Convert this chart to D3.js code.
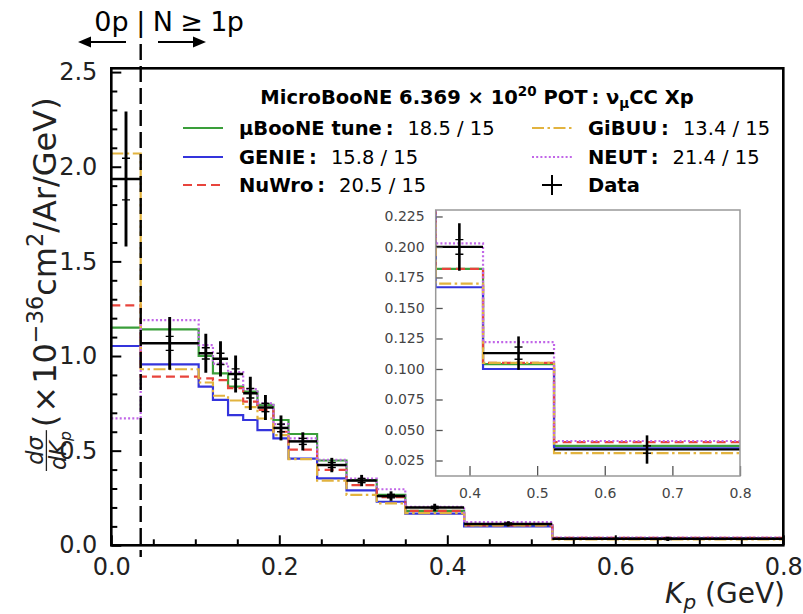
<!DOCTYPE html>
<html>
<head>
<meta charset="utf-8">
<script src="https://cdn.jsdelivr.net/npm/d3@7"></script>
<style>
  body { margin: 0; background: #fff; }
  svg { display: block; }
  text { font-family: "DejaVu Sans", sans-serif; }
</style>
</head>
<body>
<svg id="chart" width="803" height="614"></svg>
<script>
// Bin edges in proton kinetic energy (GeV): first bin is the 0p bin, then the N >= 1p bins
const binEdges = [0.0, 0.035, 0.104, 0.121, 0.139, 0.157, 0.174, 0.193, 0.211, 0.245, 0.280, 0.316, 0.350, 0.420, 0.525, 0.800];

// Measured cross section (x 10^-36 cm^2 / Ar / GeV)
const dataValues   = [1.935, 1.067, 1.014, 0.985, 0.905, 0.803, 0.728, 0.620, 0.549, 0.424, 0.342, 0.260, 0.200, 0.113, 0.034];
const dataTotalErr = [0.357, 0.139, 0.103, 0.093, 0.098, 0.088, 0.066, 0.066, 0.048, 0.038, 0.030, 0.025, 0.0195, 0.0137, 0.0116];
const dataStatErr  = [0.110, 0.037, 0.030, 0.030, 0.027, 0.025, 0.022, 0.020, 0.016, 0.013, 0.011, 0.009, 0.006, 0.005, 0.003];

// Generator predictions
const tuneValues  = [1.150, 1.141, 1.000, 0.908, 0.838, 0.812, 0.742, 0.662, 0.588, 0.448, 0.345, 0.266, 0.182, 0.104, 0.037];
const genieValues = [1.053, 0.956, 0.838, 0.768, 0.688, 0.662, 0.609, 0.565, 0.458, 0.354, 0.290, 0.230, 0.167, 0.100, 0.035];
const nuwroValues = [1.268, 0.891, 0.882, 0.873, 0.830, 0.759, 0.715, 0.600, 0.505, 0.398, 0.318, 0.255, 0.182, 0.105, 0.040];
const gibuuValues = [2.070, 0.930, 0.860, 0.790, 0.765, 0.730, 0.670, 0.582, 0.455, 0.342, 0.266, 0.222, 0.170, 0.105, 0.031];
const neutValues  = [0.671, 1.190, 1.058, 0.960, 0.915, 0.825, 0.750, 0.640, 0.565, 0.452, 0.352, 0.296, 0.203, 0.122, 0.041];

// chi2 / ndf shown in the legend
const modelNames  = ["μBooNE tune", "GENIE", "NuWro", "GiBUU", "NEUT"];
const chi2Labels  = ["18.5 / 15", "15.8 / 15", "20.5 / 15", "13.4 / 15", "21.4 / 15"];

// Axis ticks
const xMajorTicks = [0.0, 0.2, 0.4, 0.6, 0.8];
const yMajorTicks = [0.0, 0.5, 1.0, 1.5, 2.0, 2.5];
const insetXTicks = [0.4, 0.5, 0.6, 0.7, 0.8];
const insetYTicks = [0.025, 0.050, 0.075, 0.100, 0.125, 0.150, 0.175, 0.200, 0.225];
const zeroPBoundary = 0.035;

const models = [
  { name: modelNames[0], chi2: chi2Labels[0], values: tuneValues,  color: "#3a9e3a", dash: null },
  { name: modelNames[1], chi2: chi2Labels[1], values: genieValues, color: "#3434dc", dash: null },
  { name: modelNames[2], chi2: chi2Labels[2], values: nuwroValues, color: "#e8443c", dash: "9,5" },
  { name: modelNames[3], chi2: chi2Labels[3], values: gibuuValues, color: "#e2b33f", dash: "12,3.5,2.5,3.5" },
  { name: modelNames[4], chi2: chi2Labels[4], values: neutValues,  color: "#c166e8", dash: "2,2.2" }
];

const svg = d3.select("#chart");
const M = { left: 111.3, right: 783.3, top: 68.3, bottom: 545.3 };

const x = d3.scaleLinear().domain([0, 0.8]).range([M.left, M.right]);
const y = d3.scaleLinear().domain([0, 2.52]).range([M.bottom, M.top]);

const defs = svg.append("defs");
defs.append("clipPath").attr("id", "mainClip").append("rect")
  .attr("x", M.left).attr("y", M.top).attr("width", M.right - M.left).attr("height", M.bottom - M.top);

function stepPoints(vals) {
  const pts = [];
  vals.forEach((v, i) => { pts.push([binEdges[i], v]); pts.push([binEdges[i + 1], v]); });
  return pts;
}

function drawHistograms(g, xs, ys, lw) {
  const line = d3.line().x(d => xs(d[0])).y(d => ys(d[1]));
  models.forEach(m => {
    g.append("path")
      .attr("d", line(stepPoints(m.values)))
      .attr("fill", "none")
      .attr("stroke", m.color)
      .attr("stroke-width", lw)
      .attr("stroke-dasharray", m.dash);
  });
}

function drawData(g, xs, ys, capHalf, lw) {
  dataValues.forEach((v, i) => {
    const x0 = binEdges[i], x1 = binEdges[i + 1], xc = (x0 + x1) / 2;
    g.append("line").attr("x1", xs(x0)).attr("x2", xs(x1)).attr("y1", ys(v)).attr("y2", ys(v))
      .attr("stroke", "#000").attr("stroke-width", lw);
    g.append("line").attr("x1", xs(xc)).attr("x2", xs(xc))
      .attr("y1", ys(v - dataTotalErr[i])).attr("y2", ys(v + dataTotalErr[i]))
      .attr("stroke", "#000").attr("stroke-width", lw + 0.4);
    [v - dataStatErr[i], v + dataStatErr[i]].forEach(e => {
      g.append("line").attr("x1", xs(xc) - capHalf).attr("x2", xs(xc) + capHalf)
        .attr("y1", ys(e)).attr("y2", ys(e))
        .attr("stroke", "#000").attr("stroke-width", 1.4);
    });
  });
}

// ---- main panel ----
const plot = svg.append("g").attr("clip-path", "url(#mainClip)");
drawHistograms(plot, x, y, 2.2);
drawData(plot, x, y, 4, 2.5);

// axes with inward ticks
const minorX = d3.range(0, 0.8001, 0.05).filter(t => !xMajorTicks.some(m => Math.abs(m - t) < 1e-6));
const minorY = d3.range(0, 2.5201, 0.1).filter(t => !yMajorTicks.some(m => Math.abs(m - t) < 1e-6));

const xAxisG = svg.append("g").attr("transform", `translate(0,${M.bottom})`)
  .call(d3.axisBottom(x).tickValues(xMajorTicks).tickFormat(d3.format(".1f")).tickSize(-10).tickPadding(13));
svg.append("g").attr("transform", `translate(0,${M.bottom})`)
  .call(d3.axisBottom(x).tickValues(minorX).tickFormat("").tickSize(-6));
const yAxisG = svg.append("g").attr("transform", `translate(${M.left},0)`)
  .call(d3.axisLeft(y).tickValues(yMajorTicks).tickFormat(d3.format(".1f")).tickSize(-10).tickPadding(14));
svg.append("g").attr("transform", `translate(${M.left},0)`)
  .call(d3.axisLeft(y).tickValues(minorY).tickFormat("").tickSize(-6));

svg.selectAll(".domain").remove();
svg.selectAll(".tick line").attr("stroke", "#000").attr("stroke-width", 2);
[xAxisG, yAxisG].forEach(g => g.selectAll(".tick text")
  .attr("font-size", 24).attr("fill", "#222").attr("font-family", "DejaVu Sans"));

svg.append("rect")
  .attr("x", M.left).attr("y", M.top).attr("width", M.right - M.left).attr("height", M.bottom - M.top)
  .attr("fill", "none").attr("stroke", "#000").attr("stroke-width", 2.6);

// 0p | N >= 1p separator
svg.append("line")
  .attr("x1", x(zeroPBoundary)).attr("x2", x(zeroPBoundary))
  .attr("y1", 44).attr("y2", 557)
  .attr("stroke", "#000").attr("stroke-width", 2.4).attr("stroke-dasharray", "16,6");

const topLabelFont = "'Liberation Sans', Arial, sans-serif";
svg.append("text").attr("x", x(zeroPBoundary) - 12).attr("y", 31).attr("text-anchor", "end")
  .attr("font-family", topLabelFont).attr("font-size", 27).text("0p");
svg.append("text").attr("x", x(zeroPBoundary)).attr("y", 31).attr("text-anchor", "middle")
  .attr("font-family", topLabelFont).attr("font-size", 27).text("|");
svg.append("text").attr("x", x(zeroPBoundary) + 12).attr("y", 31).attr("text-anchor", "start")
  .attr("font-family", topLabelFont).attr("font-size", 27).attr("letter-spacing", -0.6).text("N ≥ 1p");

// direction arrows
function arrow(xFrom, xTo, yy) {
  const dir = Math.sign(xTo - xFrom);
  svg.append("line").attr("x1", xFrom).attr("x2", xTo - dir * 9).attr("y1", yy).attr("y2", yy)
    .attr("stroke", "#000").attr("stroke-width", 2);
  svg.append("path")
    .attr("d", `M${xTo},${yy} L${xTo - dir * 13},${yy - 5.5} L${xTo - dir * 13},${yy + 5.5} Z`)
    .attr("fill", "#000");
}
arrow(126, 78, 42);
arrow(158, 206, 42);

// y label: d sigma / dK_p (x10^-36 cm^2/Ar/GeV)
(function () {
  const fs = 32, ffs = fs * 0.7;
  const g = svg.append("g").attr("transform", "translate(56,472) rotate(-90)");
  const bar = -fs * 0.3;
  const num = g.append("text").attr("font-size", ffs).attr("font-style", "italic").attr("fill", "#222")
    .attr("text-anchor", "middle").attr("y", bar - 3).text("dσ");
  const den = g.append("text").attr("font-size", ffs).attr("font-style", "italic").attr("fill", "#222")
    .attr("text-anchor", "middle").attr("y", bar + 3 + ffs * 0.73);
  den.append("tspan").text("dK");
  den.append("tspan").attr("font-size", ffs * 0.7).attr("dy", ffs * 0.25).text("p");
  const fw = Math.max(num.node().getComputedTextLength(), den.node().getComputedTextLength()) + 2;
  num.attr("x", fw / 2 + 1);
  den.attr("x", fw / 2 + 1);
  g.append("line").attr("x1", 1).attr("x2", fw + 1).attr("y1", bar).attr("y2", bar)
    .attr("stroke", "#222").attr("stroke-width", 1.3);
  const t = g.append("text").attr("x", fw + 4).attr("y", 0).attr("font-size", fs).attr("fill", "#222");
  t.append("tspan").text("(");
  t.append("tspan").attr("dx", 2).text("×");
  t.append("tspan").attr("dx", 2).text("10");
  t.append("tspan").attr("font-size", fs * 0.7).attr("dy", -fs * 0.42).text("−36");
  t.append("tspan").attr("dy", fs * 0.42).text("cm");
  t.append("tspan").attr("font-size", fs * 0.7).attr("dy", -fs * 0.42).text("2");
  t.append("tspan").attr("dy", fs * 0.42).text("/Ar/GeV)");
})();

// x label
(function () {
  const t = svg.append("text").attr("x", 785).attr("y", 603).attr("text-anchor", "end")
    .attr("font-size", 28).attr("fill", "#222");
  t.append("tspan").attr("font-style", "italic").text("K");
  t.append("tspan").attr("font-style", "italic").attr("font-size", 20).attr("dy", 6).text("p");
  t.append("tspan").attr("dy", -6).text(" (GeV)");
})();

// ---- legend ----
(function () {
  const lfs = 19.5;
  const title = svg.append("text").attr("x", 477).attr("y", 104).attr("text-anchor", "middle")
    .attr("font-size", lfs).attr("font-weight", "bold");
  title.append("tspan").text("MicroBooNE 6.369 × 10");
  title.append("tspan").attr("font-size", 13.5).attr("dy", -8).text("20");
  title.append("tspan").attr("dy", 8).text(" POT\u2009: ν");
  title.append("tspan").attr("font-size", 13.5).attr("dy", 4).text("μ");
  title.append("tspan").attr("dy", -4).text("CC Xp");

  const colX = [183, 532], rowY = [128, 157, 185], handleLen = 40, pad = 16;
  const entries = [
    { col: 0, row: 0, m: models[0] }, { col: 0, row: 1, m: models[1] }, { col: 0, row: 2, m: models[2] },
    { col: 1, row: 0, m: models[3] }, { col: 1, row: 1, m: models[4] }
  ];
  entries.forEach(e => {
    const x0 = colX[e.col], yy = rowY[e.row];
    svg.append("line").attr("x1", x0).attr("x2", x0 + handleLen).attr("y1", yy).attr("y2", yy)
      .attr("stroke", e.m.color).attr("stroke-width", 2.2).attr("stroke-dasharray", e.m.dash);
    const t = svg.append("text").attr("x", x0 + handleLen + pad).attr("y", yy + 7).attr("font-size", lfs);
    t.append("tspan").attr("font-weight", "bold").text(e.m.name + "\u2009:");
    t.append("tspan").attr("dx", 14).text(e.m.chi2);
  });
  // data entry
  const cx = colX[1] + handleLen / 2, cy = rowY[2];
  svg.append("line").attr("x1", cx - 10).attr("x2", cx + 10).attr("y1", cy).attr("y2", cy)
    .attr("stroke", "#000").attr("stroke-width", 2);
  svg.append("line").attr("x1", cx).attr("x2", cx).attr("y1", cy - 10).attr("y2", cy + 10)
    .attr("stroke", "#000").attr("stroke-width", 2);
  svg.append("text").attr("x", colX[1] + handleLen + pad).attr("y", cy + 7).attr("font-size", lfs)
    .attr("font-weight", "bold").text("Data");
})();

// ---- inset: tail of the distribution ----
(function () {
  const I = { left: 435.7, right: 740, top: 210, bottom: 476 };
  const xi = d3.scaleLinear().domain([0.35, 0.8]).range([I.left, I.right]);
  const yi = d3.scaleLinear().domain([0.0123, 0.2303]).range([I.bottom, I.top]);
  defs.append("clipPath").attr("id", "insetClip").append("rect")
    .attr("x", I.left).attr("y", I.top).attr("width", I.right - I.left).attr("height", I.bottom - I.top);
  svg.append("rect").attr("x", I.left).attr("y", I.top).attr("width", I.right - I.left)
    .attr("height", I.bottom - I.top).attr("fill", "#fff");
  const g = svg.append("g").attr("clip-path", "url(#insetClip)");
  drawHistograms(g, xi, yi, 2.2);
  drawData(g, xi, yi, 4, 2.2);

  const ax = svg.append("g").attr("transform", `translate(0,${I.bottom})`)
    .call(d3.axisBottom(xi).tickValues(insetXTicks).tickFormat(d3.format(".1f")).tickSize(-10).tickPadding(12));
  const ay = svg.append("g").attr("transform", `translate(${I.left},0)`)
    .call(d3.axisLeft(yi).tickValues(insetYTicks).tickFormat(d3.format(".3f")).tickSize(-7).tickPadding(11));
  [ax, ay].forEach(a => {
    a.select(".domain").remove();
    a.selectAll(".tick line").attr("stroke", "#555").attr("stroke-width", 1.3);
    a.selectAll(".tick text").attr("font-size", 14).attr("fill", "#444").attr("font-family", "DejaVu Sans");
  });
  svg.append("rect").attr("x", I.left).attr("y", I.top).attr("width", I.right - I.left)
    .attr("height", I.bottom - I.top).attr("fill", "none").attr("stroke", "#999").attr("stroke-width", 1.5);
})();
</script>
</body>
</html>
